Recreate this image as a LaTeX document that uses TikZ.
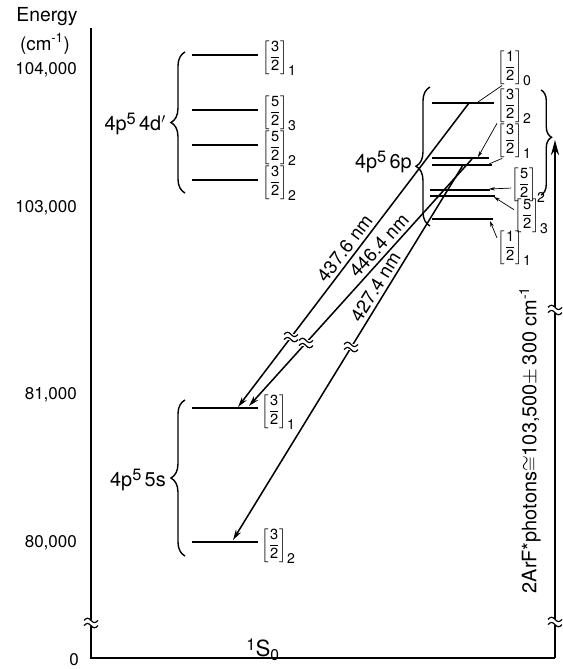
\documentclass[tikz,border=0pt]{standalone}
\usepackage{fontspec}
\setmainfont{TeX Gyre Heros}
\usepackage{amsmath}
\usetikzlibrary{arrows.meta, decorations.pathreplacing}
\tikzset{
    >=Stealth,
    font=\fontsize{14.5}{16}\selectfont,
    en_axis/.style={
        line width=1.5pt
    },
    en_level/.style={
        line width=1.5pt
    },
    en_trans/.style={
        -{Stealth[length=9pt, width=5pt]},
        line width=1.3pt
    },
    en_pointer/.style={
        line width=0.6pt
    },
    en_pointer_arrow/.style={
        -{Stealth[length=5pt, width=3pt]},
        line width=0.6pt
    },
    en_brace/.style={
        decorate,
        decoration={brace, amplitude=12pt},
        line width=1.2pt
    },
    en_jlabel/.style={
        anchor=west,
        inner sep=0pt,
        font=\fontsize{12.5}{14}\selectfont
    },
    en_tick/.style={
        anchor=east,
        inner sep=0pt
    },
    en_config/.style={
        anchor=east,
        inner sep=0pt,
        font=\fontsize{17}{18}\selectfont
    },
    en_wave/.style={
        line width=1pt
    },
    en_trans_label/.style={
        sloped,
        above=3pt,
        inner sep=0pt,
        font=\fontsize{16}{18}\selectfont
    }
}
% J-level label [n/d]_j
\newcommand{\jlev}[3]{$\left[\genfrac{}{}{0.6pt}{0}{\mbox{#1}}{\mbox{#2}}\right]_{\mbox{\fontsize{12}{13}\selectfont#3}}$}
% configuration superscript
\newcommand{\cfgsup}[1]{\raisebox{0.55ex}{\fontsize{14}{15}\selectfont#1}}
% axis break mark
\newcommand{\enbreak}[1]{
    \begin{scope}[shift={#1}]
        \fill[white] (-6,-2.6) rectangle (6,2.6);
        \draw[en_wave] (-7,-2.6) sin (-3.5,-4.8) cos (0,-2.6) sin (3.5,-0.4) cos (7,-2.6);
        \draw[en_wave] (-7,2.6) sin (-3.5,0.4) cos (0,2.6) sin (3.5,4.8) cos (7,2.6);
    \end{scope}
}

\begin{document}
\begin{tikzpicture}[x=0.03cm, y=-0.03cm]
\useasboundingbox (0,0) rectangle (563,669);

% --- Axes ---
\coordinate (axTop) at (91,28);
\coordinate (axOrigin) at (91,658);
\coordinate (axCorner) at (555,658);
\coordinate (axArrow) at (555,140);
\draw[en_axis] (axTop) -- (axOrigin) -- (axCorner);
\draw[en_axis, -{Stealth[length=13pt, width=7pt]}] (axCorner) -- (axArrow);

\node[font=\fontsize{16.5}{18}\selectfont] (energy) at (47,17) {Energy};
\node[font=\fontsize{16}{18}\selectfont] (unit) at (45,44) {(cm\textsuperscript{-1})};
\node[en_tick] (t104) at (77,70) {104,000};
\node[en_tick] (t103) at (77,208) {103,000};
\node[en_tick] (t81) at (77,395) {81,000};
\node[en_tick] (t80) at (77,543) {80,000};
\node[en_tick] (t0) at (79,660) {0};
\node[font=\fontsize{19}{20}\selectfont] (ground) at (263,650) {\cfgsup{1}S\textsubscript{0}};

\node[rotate=90, font=\fontsize{17}{18}\selectfont] (photons) at (530,440) {2ArF*photons$\cong$103,500$\pm$\,300 cm\textsuperscript{-1}};

% --- 4p5 4d' ---
\foreach \y/\n/\d/\j [count=\i] in {55/3/2/1, 110/5/2/3, 145/5/2/2, 180/3/2/2} {
    \draw[en_level] (192,\y) -- (258,\y);
    \node[en_jlabel] (jD\i) at (262,\y+3) {\jlev{\n}{\d}{\j}};
}
\draw[en_brace] (185,193) -- (185,52);
\node[en_config] (cfgD) at (166,124) {4p\cfgsup{5}\,4d$'$};

% --- 4p5 5s ---
\foreach \y/\n/\d/\j [count=\i] in {408/3/2/1, 542/3/2/2} {
    \draw[en_level] (192,\y) -- (258,\y);
    \node[en_jlabel] (jS\i) at (261,\y+4) {\jlev{\n}{\d}{\j}};
}
\draw[en_brace] (185,556) -- (185,400);
\node[en_config] (cfgS) at (166,480) {4p\cfgsup{5}\,5s};

% --- 4p5 6p ---
\draw[en_level] (432,103) -- (494,103);
\draw[en_level] (432,158) -- (489,158);
\draw[en_level] (432,165) -- (492,165);
\draw[en_level] (430,190) -- (490,190);
\draw[en_level] (430,196) -- (495,196);
\draw[en_level] (432,219) -- (493,219);
\draw[en_brace, decoration={aspect=0.43}] (430,226) -- (430,87);
\draw[en_brace, decoration={amplitude=9pt, aspect=0.45}] (541,90) -- (541,195);
\node[en_config] (cfgP) at (412,162) {4p\cfgsup{5}\,6p};

\node[en_jlabel] (jPa) at (497,68) {\jlev{1}{2}{0}};
\node[en_jlabel] (jPb) at (497,106) {\jlev{3}{2}{2}};
\node[en_jlabel] (jPc) at (497,141) {\jlev{3}{2}{1}};
\node[en_jlabel] (jPd) at (511,185) {\jlev{5}{2}{2}};
\node[en_jlabel] (jPe) at (514,216) {\jlev{5}{2}{3}};
\node[en_jlabel] (jPf) at (497,248) {\jlev{1}{2}{1}};

\coordinate (pa) at (478,102);
\coordinate (pb) at (478,157);
\coordinate (pc) at (489,164);
\coordinate (pd) at (489,189);
\coordinate (pe) at (494,197);
\coordinate (pf) at (490,221);
\draw[en_pointer] (jPa.235) -- (pa);
\draw[en_pointer_arrow] (jPb.225) -- (pb);
\draw[en_pointer] (jPc.235) -- (pc);
\draw[en_pointer_arrow] (jPd.190) -- (pd);
\draw[en_pointer_arrow] (jPe.160) -- (pe);
\draw[en_pointer_arrow] (jPf.150) -- (pf);

% --- Transitions ---
\coordinate (tA1) at (469,103);
\coordinate (tA2) at (238,407);
\coordinate (tB1) at (472,159);
\coordinate (tB2) at (249,406);
\coordinate (tC1) at (463,165);
\coordinate (tC2) at (233,540);
\draw[en_trans] (tA1) -- node[en_trans_label, pos=0.5] (lblA) {437.6 nm} (tA2);
\draw[en_trans] (tB1) -- node[en_trans_label, pos=0.38] (lblB) {446.4 nm} (tB2);
\draw[en_trans] (tC1) -- node[en_trans_label, pos=0.34] (lblC) {427.4 nm} (tC2);

% --- Breaks ---
\enbreak{(91,623)}
\enbreak{(555,310)}
\enbreak{(555,622)}
\enbreak{(291,337)}
\enbreak{(306,343)}
\enbreak{(351,347)}

\end{tikzpicture}
\end{document}
